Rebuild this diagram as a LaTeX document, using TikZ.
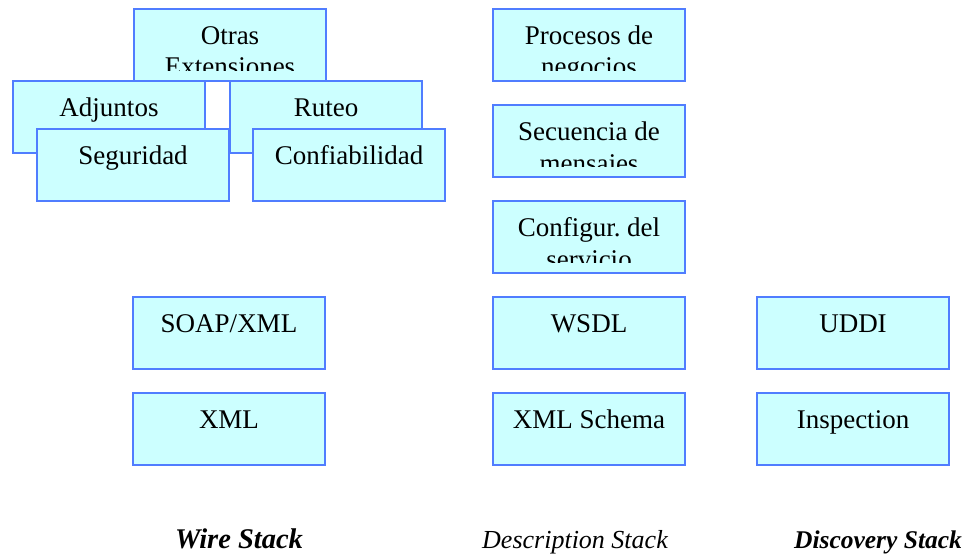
\documentclass[tikz,border=0pt]{standalone}
\usepackage{fontspec}
\setmainfont{Liberation Serif}
\frenchspacing
\definecolor{colfill}{RGB}{204,255,255}
\definecolor{colline}{RGB}{80,125,255}
\tikzset{
  stackbox/.style={
    rectangle,
    draw=colline,
    fill=colfill,
    line width=2pt,
    anchor=north west,
    minimum width=192pt,
    minimum height=72pt,
    inner sep=0pt
  },
  boxtext/.style={
    anchor=base,
    text width=192pt,
    align=flush center,
    inner sep=0pt,
    font=\fontsize{27}{32}\selectfont
  },
  stacklabel/.style={
    anchor=base,
    inner sep=0pt,
    font=\fontsize{27}{32}\selectfont\bfseries\itshape
  }
}
% box with its text cut off near the bottom edge
\newcommand{\stackcell}[4]{%
  \node[stackbox] (#1) at (#2,#3) {};
  \begin{scope}
    \clip (#1.north west) rectangle ([yshift=12pt]#1.south east);
    \node[boxtext] (#1-text) at ([yshift=-36pt]#1.north) {#4};
  \end{scope}}

\begin{document}
\begin{tikzpicture}[x=1pt,y=-1pt]
  \useasboundingbox (0,0) rectangle (964,554);

  % wire stack
  \stackcell{otras}{133}{8}{Otras\\Extensiones}
  \stackcell{adjuntos}{12}{80}{Adjuntos}
  \stackcell{ruteo}{229}{80}{Ruteo}
  \stackcell{seguridad}{36}{128}{Seguridad}
  \stackcell{confiab}{252}{128}{Confiabilidad}
  \stackcell{soap}{132}{296}{SOAP/XML}
  \stackcell{xml}{132}{392}{XML}

  % description stack
  \stackcell{procesos}{492}{8}{Procesos de\\negocios}
  \stackcell{secuencia}{492}{104}{Secuencia de\\mensajes}
  \stackcell{config}{492}{200}{Configur. del\\servicio}
  \stackcell{wsdl}{492}{296}{WSDL}
  \stackcell{schema}{492}{392}{XML Schema}

  % discovery stack
  \stackcell{uddi}{756}{296}{UDDI}
  \stackcell{inspection}{756}{392}{Inspection}

  % The labels
  \node[stacklabel, font=\fontsize{28.5}{32}\selectfont\bfseries\itshape] (wire) at (239,548) {Wire Stack};
  \node[stacklabel, font=\fontsize{26}{30}\selectfont\itshape] (descr) at (575,548) {Description Stack};
  \node[stacklabel, font=\fontsize{25.5}{30}\selectfont\bfseries\itshape] (disco) at (878,548) {Discovery Stack};
\end{tikzpicture}
\end{document}
